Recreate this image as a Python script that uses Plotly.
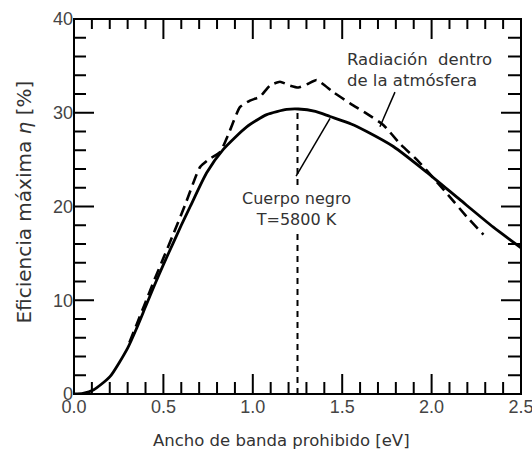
import plotly.graph_objects as go

# Black-body (T=5800 K) efficiency curve
bb_x = [0.0, 0.05, 0.108, 0.201, 0.30, 0.35, 0.40, 0.45, 0.50, 0.55, 0.60, 0.65,
        0.742, 0.835, 0.966, 1.078, 1.19, 1.255, 1.35, 1.432, 1.55, 1.637, 1.786,
        1.97, 2.16, 2.345, 2.5]
bb_y = [0.0, 0.08, 0.43, 1.85, 4.9, 7.0, 9.3, 11.6, 13.8, 15.9, 18.0, 20.0,
        23.6, 26.1, 28.5, 29.8, 30.35, 30.4, 30.15, 29.6, 28.8, 28.0, 26.4,
        23.7, 20.7, 17.8, 15.6]

# Radiation inside the atmosphere efficiency curve
atm_x = [0.31, 0.35, 0.40, 0.45, 0.50, 0.55, 0.62, 0.705, 0.76, 0.817, 0.872,
         0.928, 0.984, 1.04, 1.096, 1.152, 1.208, 1.255, 1.31, 1.357, 1.45,
         1.544, 1.637, 1.73, 1.823, 1.917, 1.97, 2.085, 2.197, 2.29]
atm_y = [5.5, 7.4, 9.8, 12.2, 14.5, 16.8, 20.1, 24.2, 25.1, 25.8, 28.1,
         30.6, 31.3, 31.7, 32.9, 33.3, 32.9, 32.7, 33.1, 33.5, 32.2,
         31.0, 29.9, 28.7, 26.7, 25.0, 23.9, 21.4, 18.9, 17.0]

# Vertical marker at the black-body maximum
peak_x = [1.25, 1.25]
peak_y = [0.0, 30.4]

# Leader lines for the labels
lead_atm_x = [1.795, 1.711]
lead_atm_y = [32.2, 28.5]
lead_bb_x = [1.432, 1.242]
lead_bb_y = [29.4, 23.25]

x_tick_vals = [0.0, 0.5, 1.0, 1.5, 2.0, 2.5]
x_tick_text = ["0.0", "0.5", "1.0", "1.5", "2.0", "2.5"]
y_tick_vals = [0, 10, 20, 30, 40]
y_tick_text = ["0", "10", "20", "30", "40"]
x_minor_step = 0.1
y_minor_step = 2
x_range = [0, 2.5]
y_range = [0, 40]

INK = "black"
TXT = "#333333"

W, H = 532, 451
M = dict(l=74, r=11, t=19, b=57)
plot_w = W - M["l"] - M["r"]
plot_h = H - M["t"] - M["b"]
ux = (x_range[1] - x_range[0]) / plot_w   # data units per pixel
uy = (y_range[1] - y_range[0]) / plot_h

# tick marks (inside, on all four sides), built from the tick grids
nx = int(round((x_range[1] - x_range[0]) / x_minor_step))
ny = int(round((y_range[1] - y_range[0]) / y_minor_step))
x_minor = [round(x_range[0] + i * x_minor_step, 6) for i in range(1, nx)]
y_minor = [round(y_range[0] + i * y_minor_step, 6) for i in range(1, ny)]
tx, ty = [], []
for v in x_minor:
    major = any(abs(v - t) < 1e-9 for t in x_tick_vals)
    lb = (20 if major else 12) * uy
    lt = (20 if major else 10) * uy
    tx += [v, v, None, v, v, None]
    ty += [y_range[0], y_range[0] + lb, None, y_range[1], y_range[1] - lt, None]
for v in y_minor:
    major = any(abs(v - t) < 1e-9 for t in y_tick_vals)
    ll = (20 if major else 12) * ux
    lr = (20 if major else 13) * ux
    tx += [x_range[0], x_range[0] + ll, None, x_range[1], x_range[1] - lr, None]
    ty += [v, v, None, v, v, None]

fig = go.Figure()
fig.add_trace(go.Scatter(x=tx, y=ty, mode="lines", line=dict(color=INK, width=2),
                         connectgaps=False))
fig.add_trace(go.Scatter(x=peak_x, y=peak_y, mode="lines",
                         line=dict(color=INK, width=2, dash="6px,5px")))
fig.add_trace(go.Scatter(x=bb_x, y=bb_y, mode="lines",
                         line=dict(color=INK, width=2.8, shape="spline", smoothing=0.6)))
fig.add_trace(go.Scatter(x=atm_x, y=atm_y, mode="lines",
                         line=dict(color=INK, width=2.6, shape="spline", smoothing=0.5,
                                   dash="11px,6px")))
fig.add_trace(go.Scatter(x=lead_atm_x, y=lead_atm_y, mode="lines",
                         line=dict(color=INK, width=1.5)))
fig.add_trace(go.Scatter(x=lead_bb_x, y=lead_bb_y, mode="lines",
                         line=dict(color=INK, width=1.5)))

tickfont = dict(family="Liberation Sans", size=18, color="#444444")
base = dict(showgrid=False, zeroline=False, automargin=False, showline=False,
            ticks="inside", ticklen=20, tickwidth=2, tickcolor="rgba(0,0,0,0)",
            tickfont=tickfont, ticklabeloverflow="allow")

fig.update_layout(
    xaxis=dict(range=x_range, tickmode="array", tickvals=x_tick_vals,
               ticktext=x_tick_text, **base),
    yaxis=dict(range=y_range, tickmode="array", tickvals=y_tick_vals,
               ticktext=y_tick_text, **base),
)

# plot frame
fig.add_shape(type="rect", xref="paper", yref="paper", x0=0, x1=1, y0=0, y1=1,
              line=dict(color=INK, width=2), layer="above")

fig.add_annotation(x=1.516, y=34.56, xref="x", yref="y", xanchor="left",
                   yanchor="middle", align="left", showarrow=False,
                   text="Radiación&nbsp; dentro<br>de la atmósfera",
                   font=dict(family="DejaVu Sans", size=16.5, color=TXT))
fig.add_annotation(x=1.245, y=19.7, xref="x", yref="y", xanchor="center",
                   yanchor="middle", align="center", showarrow=False,
                   text="Cuerpo negro<br>T=5800 K", bgcolor="white", borderpad=3,
                   font=dict(family="DejaVu Sans", size=16, color=TXT))
fig.add_annotation(x=1.163, y=-0.1227, xref="x", yref="paper", xanchor="center",
                   yanchor="middle", showarrow=False,
                   text="Ancho de banda prohibido [eV]",
                   font=dict(family="DejaVu Sans", size=16.5, color=TXT))
fig.add_annotation(x=-0.112, y=0.513, xref="paper", yref="paper", xanchor="center",
                   yanchor="middle", showarrow=False, textangle=-90,
                   text="Eficiencia máxima <i>η</i> [%]",
                   font=dict(family="DejaVu Sans", size=20, color=TXT))

fig.update_layout(width=W, height=H, margin=M,
                  paper_bgcolor="white", plot_bgcolor="white", showlegend=False)

fig.write_html("out.html")
